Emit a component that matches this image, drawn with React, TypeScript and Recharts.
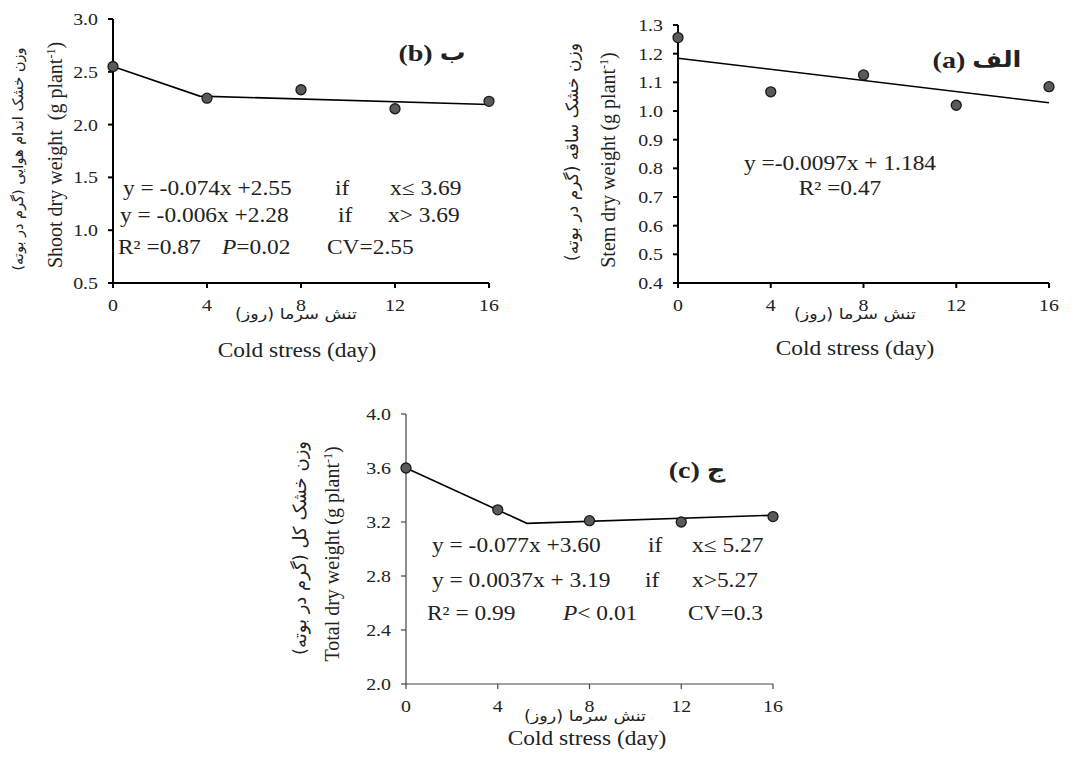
import React from 'react';
import { ScatterChart, Scatter, XAxis, YAxis } from 'recharts';

document.body.style.margin = '0';

// cold stress days
const days = [0, 4, 8, 12, 16];

// (b) shoot dry weight
const shootVals = [2.55, 2.25, 2.33, 2.15, 2.22];
const shootFitX = [0, 3.69, 16];
const shootFitY = [2.55, 2.27, 2.19];
const shootTicks = [0.5, 1.0, 1.5, 2.0, 2.5, 3.0];

// (a) stem dry weight
const stemVals = [1.256, 1.067, 1.126, 1.02, 1.085];
const stemFitX = [0, 16];
const stemFitY = [1.184, 1.029];
const stemTicks = [0.4, 0.5, 0.6, 0.7, 0.8, 0.9, 1.0, 1.1, 1.2, 1.3];

// (c) total dry weight
const totalVals = [3.6, 3.29, 3.21, 3.2, 3.24];
const totalFitX = [0, 5.27, 16];
const totalFitY = [3.6, 3.19, 3.25];
const totalTicks = [2.0, 2.4, 2.8, 3.2, 3.6, 4.0];

const SERIF = '"Liberation Serif", "DejaVu Serif", serif';
const FA = '"DejaVu Sans", sans-serif';
const INK = '#222';
const SX = 1.17; // the source picture is a bit stretched sideways

type Box = { x0: number; y0: number; x1: number; y1: number };

const Dot = (p: any) => (
  <circle cx={p.cx} cy={p.cy} r={5} fill="#5a5a5a" stroke="#1a1a1a" strokeWidth={1.3} />
);

const XTick = (p: any) => (
  <text transform={`translate(${p.x},${p.y}) scale(${SX},1)`} dy="0.71em" textAnchor="middle"
    fill={INK} fontSize={17} fontFamily={SERIF}>{p.payload.value}</text>
);

const YTick = (p: any) => (
  <text transform={`translate(${p.x},${p.y}) scale(${SX},1)`} dy="0.355em" textAnchor="end"
    fill={INK} fontSize={17} fontFamily={SERIF}>{Number(p.payload.value).toFixed(1)}</text>
);

const Panel = ({ box, vals, fitX, fitY, ticks, axisColor, axisWidth }: {
  box: Box; vals: number[]; fitX: number[]; fitY: number[]; ticks: number[];
  axisColor: string; axisWidth: number;
}) => {
  const padL = 60, padT = 12, padR = 24, padB = 40;
  const w = box.x1 - box.x0 + padL + padR;
  const h = box.y1 - box.y0 + padT + padB;
  const pts = days.map((d, i) => ({ x: d, y: vals[i] }));
  const fit = fitX.map((x, i) => ({ x, y: fitY[i] }));
  const axisStyle = { stroke: axisColor, strokeWidth: axisWidth };
  return (
    <div style={{ position: 'absolute', left: box.x0 - padL, top: box.y0 - padT }}>
      <ScatterChart width={w} height={h} margin={{ top: padT, right: padR, bottom: 0, left: 0 }}>
        <XAxis
          type="number"
          dataKey="x"
          domain={[0, 16]}
          ticks={days}
          interval={0}
          height={padB}
          tickSize={5}
          tickMargin={11}
          axisLine={axisStyle}
          tickLine={axisStyle}
          tick={XTick}
        />
        <YAxis
          type="number"
          dataKey="y"
          domain={[ticks[0], ticks[ticks.length - 1]]}
          ticks={ticks}
          interval={0}
          width={padL}
          tickSize={5}
          tickMargin={10}
          axisLine={axisStyle}
          tickLine={axisStyle}
          tick={YTick}
        />
        <Scatter data={fit} line={{ stroke: '#000', strokeWidth: 1.6 }} shape={() => <g />} isAnimationActive={false} />
        <Scatter data={pts} shape={Dot} isAnimationActive={false} />
      </ScatterChart>
    </div>
  );
};

const base: React.CSSProperties = {
  position: 'absolute',
  whiteSpace: 'nowrap',
  color: INK,
  fontFamily: SERIF,
  lineHeight: 1,
};

const C = ({ x, y, size = 20, bold, fa, children }: any) => (
  <div style={{
    ...base, left: x, top: y, fontSize: size, fontWeight: bold ? 'bold' : 'normal',
    fontFamily: fa ? FA : base.fontFamily, direction: fa ? 'rtl' : 'ltr',
    transform: `translate(-50%, -50%) scaleX(${SX})`,
  }}>{children}</div>
);

const L = ({ x, y, size = 20, children }: any) => (
  <div style={{
    ...base, left: x, top: y, fontSize: size,
    transform: `translateY(-50%) scaleX(${SX})`, transformOrigin: 'left center',
  }}>{children}</div>
);

const V = ({ x, y, size = 20, fa, children }: any) => (
  <div style={{
    ...base, left: x, top: y, fontSize: size,
    fontFamily: fa ? FA : base.fontFamily, direction: fa ? 'rtl' : 'ltr',
    transform: 'translate(-50%, -50%) rotate(-90deg)',
  }}>{children}</div>
);

// panel tag such as "(b) ب": latin part left, Persian letter right
const Tag = ({ x, y, latin, fa }: any) => (
  <div style={{
    ...base, left: x, top: y, fontSize: 24, fontWeight: 'bold', direction: 'ltr',
    transform: `translate(-50%, -50%) scaleX(${SX})`, display: 'flex', alignItems: 'center', gap: 6,
  }}>
    <span>{latin}</span>
    <span style={{ fontFamily: FA, direction: 'rtl', fontSize: 22 }}>{fa}</span>
  </div>
);

const unit = <>(g plant<sup style={{ fontSize: '0.6em' }}>-1</sup>)</>;
const faX = 'تنش سرما (روز)';

export default function App() {
  return (
    <div style={{ position: 'relative', width: 1074, height: 760, background: '#fff', overflow: 'hidden' }}>
      <Panel box={{ x0: 113, y0: 19, x1: 489, y1: 283 }} vals={shootVals} fitX={shootFitX} fitY={shootFitY}
        ticks={shootTicks} axisColor="#000" axisWidth={2} />
      <Panel box={{ x0: 678, y0: 25, x1: 1049, y1: 283 }} vals={stemVals} fitX={stemFitX} fitY={stemFitY}
        ticks={stemTicks} axisColor="#000" axisWidth={2} />
      <Panel box={{ x0: 406, y0: 414, x1: 773, y1: 684 }} vals={totalVals} fitX={totalFitX} fitY={totalFitY}
        ticks={totalTicks} axisColor="#444" axisWidth={1.2} />

      {/* (b) */}
      <V x={55} y={155}>Shoot dry weight&nbsp; {unit}</V>
      <V x={18} y={159} size={14.5} fa>وزن خشک اندام هوایی (گرم در بوته)</V>
      <C x={296} y={314} size={15} fa>{faX}</C>
      <C x={297} y={350}>Cold stress (day)</C>
      <Tag x={432} y={53} latin="(b)" fa="ب" />
      <L x={123} y={188}>y = -0.074x +2.55</L>
      <L x={335} y={188}>if</L>
      <L x={390} y={188}>x≤ 3.69</L>
      <L x={120} y={215}>y = -0.006x +2.28</L>
      <L x={338} y={215}>if</L>
      <L x={388} y={215}>x&gt; 3.69</L>
      <L x={118} y={247}>R² =0.87</L>
      <L x={222} y={247}><i>P</i>=0.02</L>
      <L x={327} y={247}>CV=2.55</L>

      {/* (a) */}
      <V x={608} y={160}>Stem dry weight {unit}</V>
      <V x={572} y={152} size={17} fa>وزن خشک ساقه (گرم در بوته)</V>
      <C x={855} y={314} size={15} fa>{faX}</C>
      <C x={855} y={348}>Cold stress (day)</C>
      <Tag x={977} y={60} latin="(a)" fa="الف" />
      <C x={840} y={163}>y =-0.0097x + 1.184</C>
      <C x={840} y={188}>R² =0.47</C>

      {/* (c) */}
      <V x={332} y={554}>Total dry weight {unit}</V>
      <V x={300} y={548} size={18} fa>وزن خشک کل (گرم در بوته)</V>
      <C x={585} y={716} size={15} fa>{faX}</C>
      <C x={587} y={738}>Cold stress (day)</C>
      <Tag x={697} y={470} latin="(c)" fa="ج" />
      <L x={432} y={545}>y = -0.077x +3.60</L>
      <L x={648} y={545}>if</L>
      <L x={692} y={545}>x≤ 5.27</L>
      <L x={432} y={580}>y = 0.0037x + 3.19</L>
      <L x={645} y={580}>if</L>
      <L x={692} y={580}>x&gt;5.27</L>
      <L x={427} y={613}>R² = 0.99</L>
      <L x={563} y={613}><i>P</i>&lt; 0.01</L>
      <L x={688} y={613}>CV=0.3</L>
    </div>
  );
}
